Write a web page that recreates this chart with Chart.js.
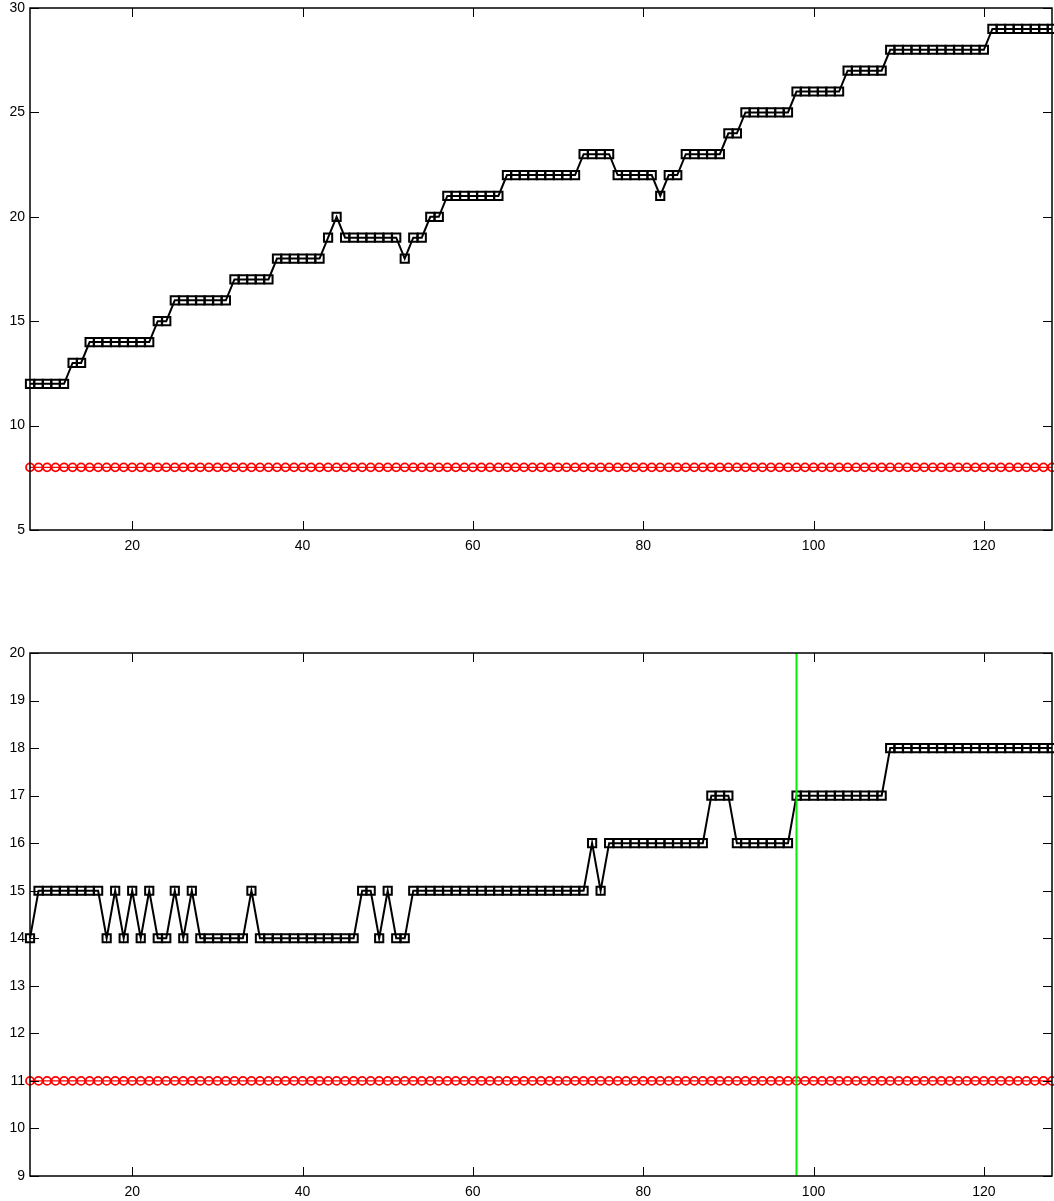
<!DOCTYPE html>
<html>
<head>
<meta charset="utf-8">
<script src="https://cdn.jsdelivr.net/npm/chart.js@4/dist/chart.umd.min.js"></script>
<style>
  html, body { margin: 0; padding: 0; background: #fff; }
  #wrap { position: relative; width: 1054px; height: 1201px; background: #fff; }
  .box { position: absolute; left: 0; width: 1054px; }
  #box1 { top: 0; height: 565px; }
  #box2 { top: 645px; height: 556px; }
</style>
</head>
<body>
<div id="wrap">
  <div class="box" id="box1"><canvas id="c1" width="1054" height="565"></canvas></div>
  <div class="box" id="box2"><canvas id="c2" width="1054" height="556"></canvas></div>
</div>
<script>
// ---- data ----
const xValues = [
  8, 9, 10, 11, 12, 13, 14, 15, 16, 17,
  18, 19, 20, 21, 22, 23, 24, 25, 26, 27,
  28, 29, 30, 31, 32, 33, 34, 35, 36, 37,
  38, 39, 40, 41, 42, 43, 44, 45, 46, 47,
  48, 49, 50, 51, 52, 53, 54, 55, 56, 57,
  58, 59, 60, 61, 62, 63, 64, 65, 66, 67,
  68, 69, 70, 71, 72, 73, 74, 75, 76, 77,
  78, 79, 80, 81, 82, 83, 84, 85, 86, 87,
  88, 89, 90, 91, 92, 93, 94, 95, 96, 97,
  98, 99, 100, 101, 102, 103, 104, 105, 106, 107,
  108, 109, 110, 111, 112, 113, 114, 115, 116, 117,
  118, 119, 120, 121, 122, 123, 124, 125, 126, 127,
  128
];
const topSeries = [
  12, 12, 12, 12, 12, 13, 13, 14, 14, 14,
  14, 14, 14, 14, 14, 15, 15, 16, 16, 16,
  16, 16, 16, 16, 17, 17, 17, 17, 17, 18,
  18, 18, 18, 18, 18, 19, 20, 19, 19, 19,
  19, 19, 19, 19, 18, 19, 19, 20, 20, 21,
  21, 21, 21, 21, 21, 21, 22, 22, 22, 22,
  22, 22, 22, 22, 22, 23, 23, 23, 23, 22,
  22, 22, 22, 22, 21, 22, 22, 23, 23, 23,
  23, 23, 24, 24, 25, 25, 25, 25, 25, 25,
  26, 26, 26, 26, 26, 26, 27, 27, 27, 27,
  27, 28, 28, 28, 28, 28, 28, 28, 28, 28,
  28, 28, 28, 29, 29, 29, 29, 29, 29, 29,
  29
];
const topBaseline = [
  8, 8, 8, 8, 8, 8, 8, 8, 8, 8,
  8, 8, 8, 8, 8, 8, 8, 8, 8, 8,
  8, 8, 8, 8, 8, 8, 8, 8, 8, 8,
  8, 8, 8, 8, 8, 8, 8, 8, 8, 8,
  8, 8, 8, 8, 8, 8, 8, 8, 8, 8,
  8, 8, 8, 8, 8, 8, 8, 8, 8, 8,
  8, 8, 8, 8, 8, 8, 8, 8, 8, 8,
  8, 8, 8, 8, 8, 8, 8, 8, 8, 8,
  8, 8, 8, 8, 8, 8, 8, 8, 8, 8,
  8, 8, 8, 8, 8, 8, 8, 8, 8, 8,
  8, 8, 8, 8, 8, 8, 8, 8, 8, 8,
  8, 8, 8, 8, 8, 8, 8, 8, 8, 8,
  8
];
const bottomSeries = [
  14, 15, 15, 15, 15, 15, 15, 15, 15, 14,
  15, 14, 15, 14, 15, 14, 14, 15, 14, 15,
  14, 14, 14, 14, 14, 14, 15, 14, 14, 14,
  14, 14, 14, 14, 14, 14, 14, 14, 14, 15,
  15, 14, 15, 14, 14, 15, 15, 15, 15, 15,
  15, 15, 15, 15, 15, 15, 15, 15, 15, 15,
  15, 15, 15, 15, 15, 15, 16, 15, 16, 16,
  16, 16, 16, 16, 16, 16, 16, 16, 16, 16,
  17, 17, 17, 16, 16, 16, 16, 16, 16, 16,
  17, 17, 17, 17, 17, 17, 17, 17, 17, 17,
  17, 18, 18, 18, 18, 18, 18, 18, 18, 18,
  18, 18, 18, 18, 18, 18, 18, 18, 18, 18,
  18
];
const bottomBaseline = [
  11, 11, 11, 11, 11, 11, 11, 11, 11, 11,
  11, 11, 11, 11, 11, 11, 11, 11, 11, 11,
  11, 11, 11, 11, 11, 11, 11, 11, 11, 11,
  11, 11, 11, 11, 11, 11, 11, 11, 11, 11,
  11, 11, 11, 11, 11, 11, 11, 11, 11, 11,
  11, 11, 11, 11, 11, 11, 11, 11, 11, 11,
  11, 11, 11, 11, 11, 11, 11, 11, 11, 11,
  11, 11, 11, 11, 11, 11, 11, 11, 11, 11,
  11, 11, 11, 11, 11, 11, 11, 11, 11, 11,
  11, 11, 11, 11, 11, 11, 11, 11, 11, 11,
  11, 11, 11, 11, 11, 11, 11, 11, 11, 11,
  11, 11, 11, 11, 11, 11, 11, 11, 11, 11,
  11
];
const markerX = [98];             // green vertical marker in lower plot
const xTicks = [20, 40, 60, 80, 100, 120];
const topYTicks = [5, 10, 15, 20, 25, 30];
const bottomYTicks = [9, 10, 11, 12, 13, 14, 15, 16, 17, 18, 19, 20];
const xRange = [8, 128];
const topYRange = [5, 30];
const bottomYRange = [9, 20];

// ---- helpers ----
const FONT = { family: "'Liberation Sans', Arial, Helvetica, sans-serif", size: 14 };
function pts(xs, ys) { return xs.map((x, i) => ({ x: x, y: ys[i] })); }
function zeroPad(s) { s.paddingTop = 0; s.paddingBottom = 0; s.paddingLeft = 0; s.paddingRight = 0; }

const frameTicks = {
  id: 'frameTicks',
  afterDraw(chart) {
    const ctx = chart.ctx, a = chart.chartArea;
    const xs = chart.scales.x, ys = chart.scales.y;
    const L = 9;
    ctx.save();
    ctx.strokeStyle = '#000';
    ctx.lineWidth = 1;
    ctx.beginPath();
    xs.ticks.forEach(t => {
      const px = Math.round(xs.getPixelForValue(t.value)) + 0.5;
      ctx.moveTo(px, a.bottom); ctx.lineTo(px, a.bottom - L);
      ctx.moveTo(px, a.top); ctx.lineTo(px, a.top + L);
    });
    ys.ticks.forEach(t => {
      const py = Math.round(ys.getPixelForValue(t.value)) + 0.5;
      ctx.moveTo(a.left, py); ctx.lineTo(a.left + L, py);
      ctx.moveTo(a.right, py); ctx.lineTo(a.right - L, py);
    });
    ctx.stroke();
    ctx.lineWidth = 1.5;
    ctx.strokeRect(a.left, a.top, a.right - a.left, a.bottom - a.top);
    ctx.restore();
  }
};

function makeChart(id, series, baseline, yRange, yTicks, xAxisHeight, extra) {
  const datasets = [
    {
      data: pts(xValues, series),
      borderColor: '#000',
      borderWidth: 2,
      pointStyle: 'rect',
      pointRadius: 5.8,
      pointBorderWidth: 2,
      pointBorderColor: '#000',
      pointBackgroundColor: 'rgba(0,0,0,0)',
      tension: 0,
      clip: false,
      order: 1
    },
    {
      data: pts(xValues, baseline),
      borderColor: '#ff0000',
      borderWidth: 1.2,
      pointStyle: 'circle',
      pointRadius: 4,
      pointBorderWidth: 1.8,
      pointBorderColor: '#ff0000',
      pointBackgroundColor: 'rgba(0,0,0,0)',
      tension: 0,
      clip: false,
      order: 2
    }
  ].concat(extra || []);
  return new Chart(document.getElementById(id), {
    type: 'line',
    data: { datasets },
    options: {
      responsive: false,
      animation: false,
      events: [],
      layout: { autoPadding: false, padding: { top: 8, right: 2, left: 0, bottom: 0 } },
      plugins: { legend: { display: false }, tooltip: { enabled: false } },
      scales: {
        x: {
          type: 'linear',
          min: xRange[0], max: xRange[1],
          grid: { display: false, drawTicks: false },
          border: { display: false },
          ticks: { color: '#000', font: FONT, padding: 8, maxRotation: 0, autoSkip: false },
          afterBuildTicks: s => { s.ticks = xTicks.map(v => ({ value: v })); },
          afterFit: s => { s.height = xAxisHeight; zeroPad(s); }
        },
        y: {
          type: 'linear',
          min: yRange[0], max: yRange[1],
          grid: { display: false, drawTicks: false },
          border: { display: false },
          ticks: { color: '#000', font: FONT, padding: 5, autoSkip: false },
          afterBuildTicks: s => { s.ticks = yTicks.map(v => ({ value: v })); },
          afterFit: s => { s.width = 30; zeroPad(s); }
        }
      }
    },
    plugins: [frameTicks]
  });
}

makeChart('c1', topSeries, topBaseline, topYRange, topYTicks, 35, []);
makeChart('c2', bottomSeries, bottomBaseline, bottomYRange, bottomYTicks, 25, [{
  data: [{ x: markerX[0], y: bottomYRange[0] }, { x: markerX[0], y: bottomYRange[1] }],
  borderColor: '#00ee00',
  borderWidth: 2,
  pointRadius: 0,
  tension: 0,
  order: 0
}]);
</script>
</body>
</html>
